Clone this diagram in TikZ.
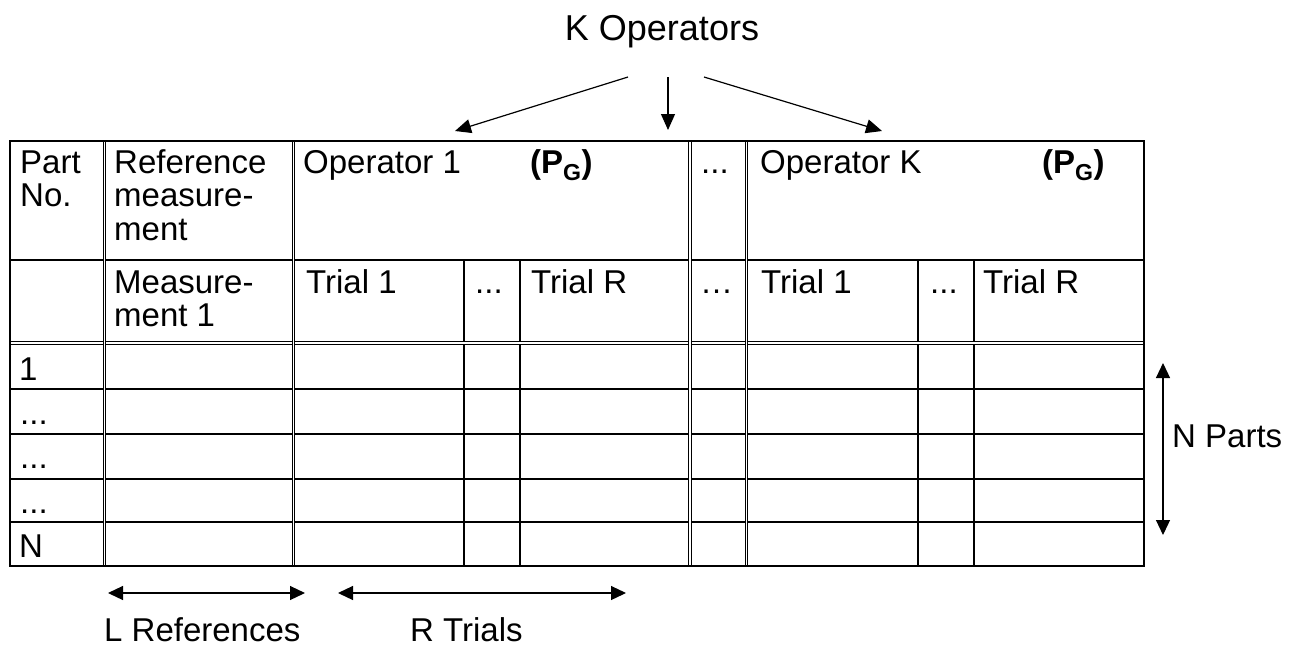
\documentclass[tikz,border=0pt]{standalone}
\usepackage{fontspec}
\setmainfont{Liberation Sans}
\usetikzlibrary{arrows.meta}

\begin{document}
\begin{tikzpicture}[x=1pt, y=-1pt,
    txt/.style={anchor=base west, inner sep=0pt, align=left, font=\fontsize{33}{33.5}\selectfont},
    rule/.style={line width=1.9pt},
    dbl/.style={double, line width=1.4pt, double distance=1.1pt},
    pointer/.style={line width=1.2pt, -{Triangle[length=16pt,width=14pt]}},
    span/.style={line width=1.2pt, {Triangle[length=15pt,width=14pt]}-{Triangle[length=15pt,width=14pt]}}]
    \useasboundingbox (0,0) rectangle (1311,646);

    % grid of the table
    \draw[rule] (10,260) -- (1144,260);
    \foreach \y in {389,434,479,522} \draw[rule] (10,\y) -- (1144,\y);
    \foreach \x in {464,520,918,974} \draw[rule] (\x,260) -- (\x,566);
    \draw[dbl] (10,343) -- (1144,343);
    \foreach \x in {104.5,293.5,690,746.5} \draw[dbl] (\x,141) -- (\x,566);
    \draw[rule] (10,141) rectangle (1144,566);

    % header cells (multi-line cells sit on their last baseline)
    \node[txt] (part) at (20,206.5) {Part\\No.};
    \node[txt] (refm) at (114,240) {Reference\\measure-\\ment};
    \node[txt] (op1) at (303,173) {Operator 1};
    \node[txt] (op1pg) at (530,173) {\textbf{(P\textsubscript{G})}};
    \node[txt] (opdots) at (701,173) {...};
    \node[txt] (opK) at (760,173) {Operator K};
    \node[txt] (opKpg) at (1042,173) {\textbf{(P\textsubscript{G})}};

    \node[txt] (meas) at (114,326.5) {Measure-\\ment 1};
    \node[txt] (trialA) at (306,293) {Trial 1};
    \node[txt] (dotsA) at (475,293) {...};
    \node[txt] (trialRA) at (531,293) {Trial R};
    \node[txt] (middots) at (700,293) {…};
    \node[txt] (trialB) at (761,293) {Trial 1};
    \node[txt] (dotsB) at (930,293) {...};
    \node[txt] (trialRB) at (983,293) {Trial R};

    % part numbers
    \node[txt] (p1) at (19,380) {1};
    \node[txt] (p2) at (20,424) {...};
    \node[txt] (p3) at (20,468) {...};
    \node[txt] (p4) at (20,513) {...};
    \node[txt] (pN) at (19,557) {N};

    % labels and arrows
    \node[anchor=base, inner sep=0pt, font=\fontsize{36}{40}\selectfont] (kops) at (662,40) {K Operators};
    \coordinate (kopsL) at (628,77);
    \coordinate (kopsM) at (668,77);
    \coordinate (kopsR) at (704,77);
    \coordinate (tipL) at (455,131);
    \coordinate (tipM) at (668,130);
    \coordinate (tipR) at (882,131);
    \draw[pointer] (kopsL) -- (tipL);
    \draw[pointer] (kopsM) -- (tipM);
    \draw[pointer] (kopsR) -- (tipR);

    \node[txt] (nparts) at (1172,447) {N Parts};
    \coordinate (ntop) at (1163,363);
    \coordinate (nbot) at (1163,535);
    \draw[span] (ntop) -- (nbot);

    \node[txt] (lrefs) at (104,641) {L References};
    \node[txt] (rtrials) at (410,641) {R Trials};
    \coordinate (lA) at (108,593);
    \coordinate (lB) at (305,593);
    \coordinate (rA) at (338,593);
    \coordinate (rB) at (626,593);
    \draw[span] (lA) -- (lB);
    \draw[span] (rA) -- (rB);
\end{tikzpicture}
\end{document}
